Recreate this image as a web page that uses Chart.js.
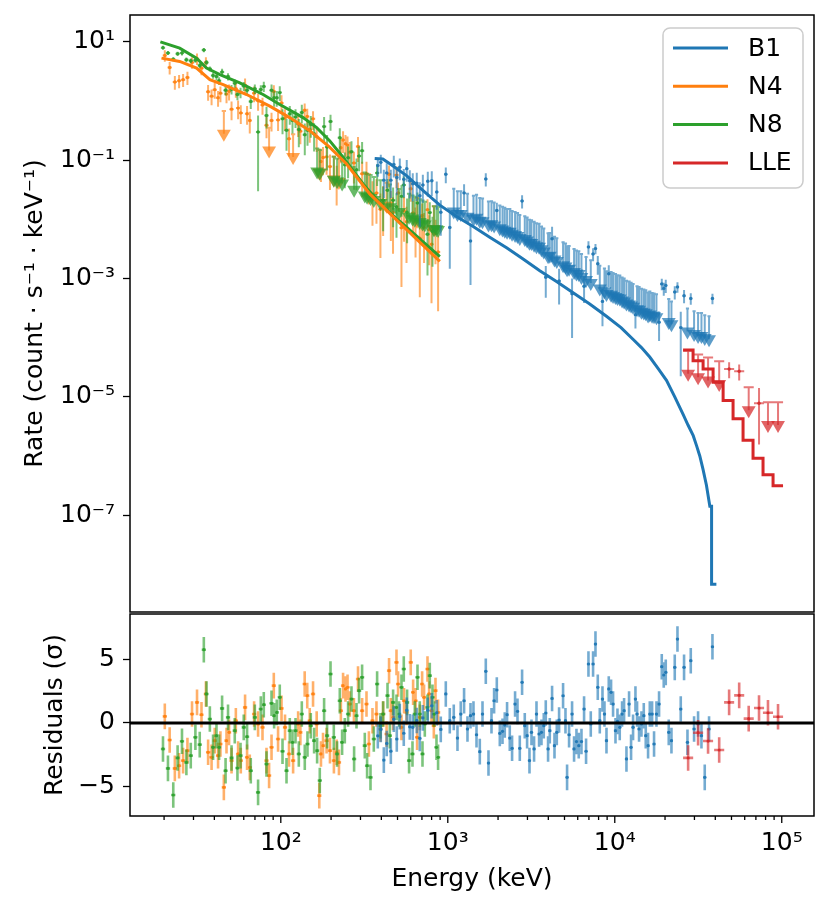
<!DOCTYPE html>
<html lang="en">
<head>
<meta charset="utf-8">
<title>Spectral fit: count rate and residuals</title>
<script src="https://cdn.jsdelivr.net/npm/chart.js"></script>
<style>
  body { margin: 0; background: #fff; }
  #wrap { position: relative; width: 831px; height: 907px; }
  canvas { position: absolute; left: 0; }
  #rateChart { top: 0; }
  #resChart { top: 600px; }
</style>
</head>
<body>
<div id="wrap">
  <canvas id="rateChart" width="831" height="620"></canvas>
  <canvas id="resChart" width="831" height="307"></canvas>
</div>
<script>
// ---- axis ticks ----
const rateTicks = [1e1, 1e-1, 1e-3, 1e-5, 1e-7];
const rateTickLabels = ['10¹', '10⁻¹', '10⁻³', '10⁻⁵', '10⁻⁷'];
const energyTicks = [1e2, 1e3, 1e4, 1e5];
const energyTickLabels = ['10²', '10³', '10⁴', '10⁵'];
const energyMinorTicks = [20, 30, 40, 50, 60, 70, 80, 90, 200, 300, 400, 500, 600, 700, 800, 900,
  2000, 3000, 4000, 5000, 6000, 7000, 8000, 9000, 20000, 30000, 40000, 50000, 60000, 70000, 80000, 90000];
const resTicks = [5, 0, -5];
const resTickLabels = ['5', '0', '−5'];

const detectors = ['B1', 'N4', 'N8', 'LLE'];

// ---- folded models (keV, count/s/keV) ----
const n4ModelE = [19.3, 24.8, 31.3, 37.6, 45.2, 62.4, 85.9, 113, 149, 196, 247, 341, 493, 896];
const n4ModelRate = [5.32, 4.68, 3.62, 2.30, 1.90, 1.29, 0.822, 0.525, 0.316, 0.166, 0.0871, 0.0269, 0.00977, 0.00195];
const n8ModelE = [19, 24.8, 31.3, 35.9, 43.2, 56.8, 78.3, 98.6, 136, 164, 196, 236, 311, 410, 566, 896];
const n8ModelRate = [10.0, 7.83, 5.32, 3.62, 2.79, 2.03, 1.29, 0.877, 0.525, 0.355, 0.214, 0.112, 0.0398, 0.0162, 0.00741, 0.00234];
const b1ModelE = [365, 408, 450, 566, 709, 896, 1128, 1419, 1783, 2250, 2825, 3556, 4477, 5630, 7080, 8915,
  10900, 12900, 14450, 16200, 18200, 20400, 22870, 25700, 27500, 29500, 30850, 32300, 33750, 35400, 37100, 38000, 38000, 40600];
const b1ModelRate = [0.107, 0.105, 0.087, 0.055, 0.031, 0.0174, 0.0112, 0.0076, 0.0050, 0.0033, 0.00214, 0.00135, 8.9e-4, 5.75e-4, 3.7e-4, 2.3e-4,
  1.48e-4, 9.3e-5, 6.8e-5, 4.7e-5, 3.0e-5, 1.9e-5, 1.0e-5, 5.0e-6, 3.3e-6, 2.2e-6, 1.51e-6, 1.0e-6, 6.0e-7, 3.2e-7, 1.41e-7, 1.41e-7, 6.8e-9, 6.8e-9];
const lleEdges = [25650, 29440, 33800, 38800, 44550, 51100, 58650, 67300, 77250, 88700, 101800];
const lleModelRate = [6.2e-5, 4.07e-5, 2.94e-5, 1.76e-5, 8.7e-6, 4.26e-6, 1.85e-6, 9.1e-7, 4.8e-7, 3.13e-7];

// ---- N4 data: energy, rate, relative error, upper limit flag, residual ----
const n4E = [20.2, 21.6, 23.2, 24.6, 26.0, 27.6, 29.4, 31.5, 33.5, 35.6,
  36.7, 38.5, 40.2, 42.1, 43.5, 45.6, 47.3, 49.0, 50.7, 53.8,
  55.5, 57.6, 61.1, 62.8, 65.2, 69.2, 73.1, 77.7, 82.1, 85.1,
  88.0, 90.8, 96.3, 101, 106, 112, 118.5, 127, 131, 139,
  144, 149, 156, 164, 170, 174, 179, 188, 197, 208,
  216, 223, 229, 236, 244, 251, 259, 274, 290, 307,
  326, 337, 354, 374, 395, 410, 430, 445, 456, 470,
  493, 504, 528, 547, 566, 600, 620, 641, 655, 680,
  702, 721, 756, 773, 799, 825, 844, 875];
const n4Rate = [5.9, 3.7, 2.1, 2.2, 2.3, 2.5, 4.5, 5.2, 3.6, 4.5,
  1.44, 1.21, 1.56, 1.14, 1.36, 0.68, 1.31, 1.46, 0.73, 1.62,
  0.76, 0.63, 1.85, 0.61, 0.47, 1.36, 1.01, 0.86, 0.39, 0.355,
  0.47, 1.45, 0.48, 0.93, 0.52, 0.23, 0.275, 0.41, 0.31, 0.70,
  0.55, 0.33, 0.50, 0.25, 0.151, 0.095, 0.111, 0.114, 0.078, 0.115,
  0.049, 0.104, 0.162, 0.22, 0.19, 0.18, 0.136, 0.090, 0.17, 0.059,
  0.059, 0.058, 0.026, 0.028, 0.0148, 0.021, 0.0414, 0.058, 0.0173, 0.0131,
  0.056, 0.028, 0.0072, 0.0140, 0.0091, 0.033, 0.0128, 0.0091, 0.0231, 0.0048,
  0.0116, 0.0073, 0.0146, 0.0067, 0.0038, 0.0167, 0.0058, 0.0028];
const n4RelErr = [.22, .24, .26, .25, .25, .25, .22, .22, .24, .22,
  .3, .3, .3, .3, .3, 0, .3, .3, .35, .3,
  .35, .35, .3, .35, .4, .3, .32, .32, .4, 0,
  .35, .28, .35, .35, .4, .5, 0, .4, .4, .3,
  .35, .4, .35, .45, 0, .55, .5, .5, .6, 0,
  .65, 0, .45, .4, .4, .4, .5, .55, .45, .6,
  .6, 0, .7, .7, .85, .75, 0, .4, .75, .8,
  .4, .5, .9, .7, .8, .4, .6, .75, 0, .9,
  .6, .75, .5, .75, .9, 0, .7, .9];
const n4Ul = [0, 0, 0, 0, 0, 0, 0, 0, 0, 0,
  0, 0, 0, 0, 0, 1, 0, 0, 0, 0,
  0, 0, 0, 0, 0, 0, 0, 0, 0, 1,
  0, 0, 0, 0, 0, 0, 1, 0, 0, 0,
  0, 0, 0, 0, 1, 0, 0, 0, 0, 1,
  0, 1, 0, 0, 0, 0, 0, 0, 0, 0,
  0, 1, 0, 0, 0, 0, 1, 0, 0, 0,
  0, 0, 0, 0, 0, 0, 0, 0, 1, 0,
  0, 0, 0, 0, 0, 1, 0, 0];
const n4Res = [0.52, -1.33, -3.55, -3.34, -2.94, -2.16, 0.70, 1.61, 0.65, 2.27,
  -2.29, -2.68, -1.38, -2.55, -1.64, -5.03, -1.38, -0.73, -2.94, 0.18,
  -2.42, -2.94, 1.22, -2.68, -3.47, 0.70, -0.08, -0.34, -2.94, -4.11,
  -1.90, 2.92, -1.25, 1.14, -0.34, -2.42, -2.94, -0.08, -0.73, 3.05,
  2.14, 0.18, 2.27, -0.08, -5.68, -2.42, -1.77, -1.38, -2.16, -2.94,
  -2.29, -3.08, 0.96, 2.92, 2.66, 2.79, 1.48, 0.96, 3.44, 0.96,
  1.48, -1.64, 0.18, 0.70, -0.47, 0.70, -0.86, 4.09, 0.96, 0.44,
  4.74, 3.05, -0.34, 1.74, 0.83, 4.74, 2.40, 1.74, -1.12, 0.44,
  3.05, 2.01, 4.22, 2.27, 0.96, -0.21, 2.53, 0.83];

// ---- N8 data ----
const n8E = [19.7, 21.1, 22.7, 24.1, 25.6, 27.2, 28.9, 30.8, 32.7, 34.6,
  35.9, 37.6, 39.3, 41.2, 42.7, 44.5, 46.7, 48.3, 50.7, 53.0,
  55.0, 57.4, 60.0, 62.8, 66.1, 69.9, 73.1, 75.9, 79.1, 82.1,
  88.0, 91.2, 94.6, 98.6, 102.4, 108.2, 113.2, 117.5, 122.5, 128.2,
  133.6, 139.2, 144.5, 151.2, 158.3, 165.0, 171.2, 181.7, 189.3, 198.5,
  207.7, 217.3, 225.6, 232.9, 241.7, 252.9, 265.0, 274.8, 284.0, 294.4,
  306.8, 318.4, 328.7, 344.5, 360.6, 377.4, 395.4, 410.0, 435.6, 449.6,
  470.5, 493.0, 511.0, 528.2, 545.2, 570.6, 586.5, 614.6, 634.5, 658.6,
  679.8, 705.6, 728.4, 755.9, 780.3, 809.9, 827.9, 855.7, 874.8];
const n8Rate = [8.0, 6.5, 5.1, 6.3, 6.5, 5.0, 4.8, 4.9, 4.0, 7.3,
  4.5, 3.5, 2.7, 2.6, 2.2, 3.1, 1.52, 2.6, 1.58, 2.0,
  1.29, 1.40, 1.79, 1.52, 0.98, 1.61, 0.30, 1.57, 1.77, 0.57,
  1.52, 1.14, 1.14, 1.39, 0.50, 0.32, 0.61, 0.47, 0.54, 0.33,
  0.64, 0.27, 0.32, 0.40, 0.28, 0.157, 0.149, 0.37, 0.167, 0.45,
  0.114, 0.107, 0.24, 0.098, 0.084, 0.110, 0.139, 0.077, 0.069, 0.118,
  0.145, 0.062, 0.059, 0.056, 0.052, 0.061, 0.046, 0.021, 0.031, 0.039,
  0.021, 0.0163, 0.0325, 0.0245, 0.038, 0.0132, 0.027, 0.0252, 0.0241, 0.0189,
  0.0219, 0.0208, 0.0199, 0.0056, 0.0130, 0.0063, 0.0166, 0.0166, 0.0161];
const n8RelErr = [.08, .08, .08, .08, .09, .09, .09, .09, .1, .08,
  .1, .1, .12, .14, .15, .13, .18, .14, .18, .16,
  .2, .2, .17, .18, .25, .18, .9, .18, .2, .4,
  .25, .3, .3, .28, .45, .55, .35, .4, .35, .5,
  .35, .55, .45, .4, .5, 0, 0, .45, .6, .3,
  0, 0, .45, 0, .6, .55, .5, 0, .55, .45,
  .4, 0, 0, 0, 0, .4, 0, .7, .55, 0,
  .65, .7, 0, .55, .4, .7, 0, 0, 0, .5,
  0, 0, 0, .8, .5, .75, 0, 0, 0];
const n8Ul = [0, 0, 0, 0, 0, 0, 0, 0, 0, 0,
  0, 0, 0, 0, 0, 0, 0, 0, 0, 0,
  0, 0, 0, 0, 0, 0, 0, 0, 0, 0,
  0, 0, 0, 0, 0, 0, 0, 0, 0, 0,
  0, 0, 0, 0, 0, 1, 1, 0, 0, 0,
  1, 1, 0, 1, 0, 0, 0, 1, 0, 0,
  0, 1, 1, 1, 1, 0, 1, 0, 0, 1,
  0, 0, 1, 0, 0, 0, 1, 1, 1, 0,
  1, 1, 1, 0, 0, 0, 1, 1, 1];
const n8Res = [-2.03, -3.55, -5.63, -2.73, -1.43, -3.08, -2.55, -1.12, -1.69, 5.73,
  2.27, 0.31, -1.90, -0.99, -1.90, 1.14, -3.73, 0.44, -2.73, -0.60,
  -3.52, -2.55, -0.34, -1.07, -3.73, 0.44, -5.42, 1.09, 1.43, -3.21,
  1.54, 0.57, 0.83, 2.01, -2.21, -3.73, -0.60, -1.51, -0.60, -2.42,
  0.70, -2.68, -1.64, -0.21, -1.38, -2.16, -4.50, 0.96, -0.99, 3.83,
  -1.12, -2.42, 1.74, -1.51, -0.60, 0.70, 1.87, -2.81, 0.57, 2.53,
  3.57, -1.77, -3.34, -4.25, -1.25, 3.05, -0.21, 0.70, 2.14, -0.99,
  1.61, 1.22, 0.70, 2.79, 4.22, 1.61, -2.94, -2.42, 0.70, 3.57,
  0.70, -2.42, -0.08, 1.22, 3.70, 2.01, 0.70, -1.90, -2.68];

// ---- B1 data ----
const b1E = [381, 397, 414, 431, 456, 475, 495, 516, 545, 568,
  592, 617, 652, 680, 709, 759, 802, 859, 908, 973,
  1028, 1086, 1143, 1196, 1252, 1312, 1368, 1425, 1486, 1555,
  1614, 1689, 1753, 1827, 1894, 1966, 2049, 2127, 2194, 2265,
  2351, 2427, 2529, 2615, 2699, 2786, 2891, 2985, 3085, 3171,
  3287, 3398, 3522, 3640, 3757, 3862, 3987, 4082, 4213, 4355,
  4496, 4641, 4903, 5068, 5181, 5326, 5550, 5705, 5897, 6086,
  6318, 6549, 6731, 6958, 7183, 7415, 7664, 7912, 8134, 8441,
  8677, 8920, 9206, 9502, 9768, 10100, 10380, 10710, 11060, 11370,
  11750, 12180, 12520, 12870, 13300, 13600, 13980, 14450, 14920, 15330,
  15830, 16210, 16730, 17190, 17770, 18420, 19120, 19650, 20200, 21050,
  21850, 22870, 23740, 24840, 26000, 27250, 28520, 29850, 31540, 33050,
  34580, 36700, 38460];
const b1Rate = [0.081, 0.092, 0.046, 0.061, 0.046, 0.085, 0.051, 0.076, 0.0475, 0.072,
  0.045, 0.040, 0.041, 0.025, 0.038, 0.044, 0.045, 0.029, 0.0132, 0.058,
  0.0073, 0.033, 0.030, 0.030, 0.028, 0.027, 0.0043, 0.025, 0.026, 0.023,
  0.0226, 0.048, 0.020, 0.0202, 0.0192, 0.0141, 0.0172, 0.0164, 0.0157, 0.0150,
  0.0150, 0.0139, 0.0133, 0.0128, 0.0118, 0.0204, 0.0113, 0.0107, 0.0098, 0.0097,
  0.0091, 0.0086, 0.0084, 0.0076, 0.0070, 0.00105, 0.0058, 0.0059, 0.0047, 0.0051,
  0.0048, 0.00091, 0.0041, 0.0039, 0.0035, 0.00356, 0.00055, 0.00315, 0.00296, 0.0029,
  0.00259, 0.00074, 0.0023, 0.0034, 0.00204, 0.0026, 0.0032, 0.00178, 0.00165, 0.00041,
  0.00148, 0.00133, 0.0012, 0.00129, 0.00124, 0.00119, 0.00114, 0.00112, 0.00104, 0.0010,
  0.00092, 0.00089, 0.00085, 0.00081, 0.000245, 0.00074, 0.00072, 0.00067, 0.00065, 0.00063,
  0.00058, 0.0006, 0.00057, 0.00056, 0.00054, 0.000182, 0.00081, 0.00068, 0.00076, 0.00045,
  0.00041, 0.00059, 0.00072, 0.000148, 0.00051, 0.00031, 0.00046, 0.00028, 0.00026, 0.00026,
  0.00024, 0.00023, 0.00046];
const b1RelErr = [.35, .35, .5, .45, .5, .4, .5, .4, .5, .4,
  .5, .5, .5, .7, .5, .45, .45, .5, .6, .3,
  .8, 0, 0, 0, .4, 0, .82, 0, 0, 0,
  0, .25, 0, 0, 0, .35, 0, 0, 0, 0,
  0, 0, 0, 0, 0, .25, 0, 0, 0, 0,
  0, 0, 0, 0, 0, .55, 0, 0, .6, 0,
  0, .6, 0, 0, 0, 0, .82, 0, 0, 0,
  0, .48, 0, .25, 0, .25, .2, .35, 0, .62,
  0, 0, .4, 0, 0, 0, 0, 0, 0, 0,
  0, 0, 0, 0, .42, 0, 0, 0, 0, 0,
  0, 0, 0, 0, 0, .52, .22, .25, .25, 0,
  0, .25, .2, .85, .25, 0, .22, 0, 0, 0,
  0, 0, .2];
const b1Ul = [0, 0, 0, 0, 0, 0, 0, 0, 0, 0,
  0, 0, 0, 0, 0, 0, 0, 0, 0, 0,
  0, 1, 1, 1, 0, 1, 0, 1, 1, 1,
  1, 0, 1, 1, 1, 0, 1, 1, 1, 1,
  1, 1, 1, 1, 1, 0, 1, 1, 1, 1,
  1, 1, 1, 1, 1, 0, 1, 1, 0, 1,
  1, 0, 1, 1, 1, 1, 0, 1, 1, 1,
  1, 0, 1, 0, 1, 0, 0, 0, 1, 0,
  1, 1, 0, 1, 1, 1, 1, 1, 1, 1,
  1, 1, 1, 1, 0, 1, 1, 1, 1, 1,
  1, 1, 1, 1, 1, 0, 0, 0, 0, 1,
  1, 0, 0, 0, 0, 1, 0, 1, 1, 1,
  1, 1, 0];
const b1Res = [-1.0, -0.5, -2.9, -1.6, -2.2, 0.3, -1.25, 0.5, -0.8, 1.0,
  -0.3, -0.34, 0.2, -1.2, 0.4, 1.0, 1.35, 0.8, -0.5, 2.27,
  0.18, 0.44, -1.18, 0.70, 1.74, -0.47, 0.57, 0.70, -0.92, -2.24,
  0.70, 4.04, -3.13, 0.18, 1.74, 2.58, -0.81, -0.65, -0.16, 0.65,
  -1.18, -1.98, 1.48, 0.91, -1.98, 3.18, -0.21, -0.99, -2.94, -0.73,
  -2.03, 0.70, -0.86, -0.73, -0.21, 0.78, -2.03, -0.60, 1.92, -1.77,
  -0.73, 0.23, 2.13, 0.18, -4.25, -0.92, 0.70, -2.03, -1.45, -1.77,
  -1.45, 1.09, -2.21, 4.61, -0.08, 4.61, 6.17, 2.79, 0.18, 1.87,
  0.70, -1.38, 2.66, 2.40, 1.48, -0.60, 0.13, -0.34, 0.70, 0.96,
  -2.81, 1.48, -1.90, -0.34, 1.87, 0.70, -0.47, -0.08, 0.57, -0.99,
  -1.77, 0.70, 0.70, -1.64, 0.70, 1.48, 4.40, 3.75, 3.96, -0.73,
  -1.38, 4.35, 6.56, 1.09, 4.35, -1.51, 4.87, -0.47, -0.08, -0.99,
  -4.25, -0.47, 5.96];

// ---- LLE data ----
const lleE = [27500, 31550, 36200, 42200, 48400, 55600, 63400, 73100, 82700, 95000];
const lleRate = [6.0e-5, 5.2e-5, 4.6e-5, 4.0e-5, 2.95e-5, 2.7e-5, 1.45e-5, 7.8e-6, 8.1e-6, 8.1e-6];
const lleRelErr = [0, 0, 0, 0, 0.3, 0.3, 0, 0.8, 0, 0];
const lleUl = [1, 1, 1, 1, 0, 0, 1, 0, 1, 1];
const lleRes = [-2.73, -0.76, -1.41, -2.11, 1.61, 2.16, 0.34, 1.17, 0.80, 0.49];

// ---- style ----
const RGB = { B1: '31,119,180', N4: '255,127,14', N8: '44,160,44', LLE: '214,39,40' };
const col = (name, a) => `rgba(${RGB[name]},${a})`;
const ARROW = 0.41;                      // triangle of an upper limit sits 0.39 dex below it
const HW = { N4: 1.03, N8: 1.03, B1: 1.022, LLE: 1.072 };   // half bin width as a factor
const X_MIN = 12.5, X_MAX = 1.56e5;

Chart.defaults.font.family = 'DejaVu Sans';
Chart.defaults.font.size = 25;
Chart.defaults.color = '#000';

// keep the plot box exactly where the layout padding puts it
function noEdgePadding(s) { s.paddingTop = 0; s.paddingBottom = 0; }

function modelSet(name, data, stepped) {
  return { type: 'line', label: name, data, borderColor: col(name, 1), borderWidth: 3,
    pointRadius: 0, stepped: stepped || false, order: 0 };
}

function rateSets(name, E, rate, rel, ul, order) {
  const hw = HW[name];
  const bars = [], tris = [], dots = [];
  E.forEach((e, i) => {
    const v = rate[i];
    if (ul[i]) {
      bars.push({x: e, y: v}, {x: e, y: v * ARROW}, {x: e, y: null});
      tris.push({x: e, y: v * ARROW});
    } else {
      bars.push({x: e, y: v * (1 - rel[i])}, {x: e, y: v * (1 + rel[i])}, {x: e, y: null});
      dots.push({x: e, y: v});
    }
    bars.push({x: e / hw, y: v}, {x: e * hw, y: v}, {x: e * hw, y: null});
  });
  return [
    { type: 'line', data: bars, borderColor: col(name, 0.62), borderWidth: 2, pointRadius: 0, order: order + 0.2 },
    { type: 'line', data: tris, showLine: false, pointStyle: 'triangle', pointRotation: 180, pointRadius: 8,
      pointBackgroundColor: col(name, 0.72), pointBorderColor: col(name, 0.72), pointBorderWidth: 0, order: order + 0.1 },
    { type: 'line', data: dots, showLine: false, pointRadius: 1.7, pointBackgroundColor: col(name, 0.9),
      pointBorderWidth: 0, order: order }
  ];
}

function resSets(name, E, res, order) {
  const hw = HW[name];
  const bars = [], dots = [];
  E.forEach((e, i) => {
    const r = res[i];
    bars.push({x: e, y: r - 1}, {x: e, y: r + 1}, {x: e, y: null},
              {x: e / hw, y: r}, {x: e * hw, y: r}, {x: e * hw, y: null});
    dots.push({x: e, y: r});
  });
  return [
    { type: 'line', data: bars, borderColor: col(name, 0.62), borderWidth: 2.6, pointRadius: 0, order: order + 0.1 },
    { type: 'line', data: dots, showLine: false, pointRadius: 1.6, pointBackgroundColor: col(name, 0.95),
      pointBorderWidth: 0, order: order }
  ];
}

const zip = (xs, ys) => xs.map((x, i) => ({x, y: ys[i]}));

const frame = {
  id: 'frame',
  afterDraw(chart) {
    const {ctx, chartArea: a} = chart;
    ctx.save();
    ctx.strokeStyle = '#000';
    ctx.lineWidth = 1.5;
    ctx.strokeRect(a.left, a.top, a.right - a.left, a.bottom - a.top);
    ctx.restore();
  }
};

const legendBox = {
  id: 'legendBox',
  afterDraw(chart) {
    const {ctx, chartArea: a} = chart;
    const x0 = a.right - 151, y0 = a.top + 13, w = 140, h = 160;
    ctx.save();
    ctx.beginPath();
    ctx.roundRect(x0, y0, w, h, 7);
    ctx.fillStyle = 'rgba(255,255,255,0.8)';
    ctx.fill();
    ctx.strokeStyle = '#cccccc';
    ctx.lineWidth = 1.5;
    ctx.stroke();
    ctx.font = '25px "DejaVu Sans"';
    ctx.textBaseline = 'middle';
    ctx.fillStyle = '#000';
    detectors.forEach((name, i) => {
      const y = y0 + 20 + i * 38.3;
      ctx.beginPath();
      ctx.moveTo(x0 + 10, y);
      ctx.lineTo(x0 + 65, y);
      ctx.strokeStyle = col(name, 1);
      ctx.lineWidth = 3;
      ctx.stroke();
      ctx.fillText(name, x0 + 85, y + 1);
    });
    ctx.restore();
  }
};

const energyTickMarks = {
  id: 'energyTickMarks',
  afterDraw(chart) {
    const {ctx, chartArea: a} = chart;
    const sx = chart.scales.x;
    ctx.save();
    ctx.strokeStyle = '#000';
    ctx.lineWidth = 1.3;
    const mark = (v, len) => {
      const px = sx.getPixelForValue(v);
      ctx.beginPath();
      ctx.moveTo(px, a.bottom);
      ctx.lineTo(px, a.bottom + len);
      ctx.stroke();
    };
    energyTicks.forEach(v => mark(v, 7));
    energyMinorTicks.forEach(v => mark(v, 4));
    ctx.restore();
  }
};

const lleModelPts = lleEdges.map((e, i) => ({x: e, y: lleModelRate[Math.min(i, lleModelRate.length - 1)]}));

new Chart(document.getElementById('rateChart'), {
  type: 'line',
  data: {
    datasets: [
      modelSet('B1', zip(b1ModelE, b1ModelRate)),
      modelSet('N4', zip(n4ModelE, n4ModelRate)),
      modelSet('N8', zip(n8ModelE, n8ModelRate)),
      modelSet('LLE', lleModelPts, 'before'),
      ...rateSets('N8', n8E, n8Rate, n8RelErr, n8Ul, 3),
      ...rateSets('N4', n4E, n4Rate, n4RelErr, n4Ul, 4),
      ...rateSets('B1', b1E, b1Rate, b1RelErr, b1Ul, 2),
      ...rateSets('LLE', lleE, lleRate, lleRelErr, lleUl, 1)
    ]
  },
  options: {
    responsive: false,
    animation: false,
    events: [],
    layout: { padding: { left: 20, right: 17, top: 15, bottom: 6 } },
    plugins: { legend: { display: false }, tooltip: { enabled: false } },
    scales: {
      x: { type: 'logarithmic', min: X_MIN, max: X_MAX, display: false },
      y: {
        type: 'logarithmic', min: 2.3e-9, max: 28.5,
        afterFit(s) { s.width = 110; noEdgePadding(s); },
        afterBuildTicks(s) { s.ticks = rateTicks.map(v => ({value: v})); },
        ticks: { autoSkip: false, padding: 8, callback: (v, i) => rateTickLabels[i] },
        grid: { display: true, drawOnChartArea: false, drawTicks: true, tickLength: 7, tickWidth: 1.3, tickColor: '#000' },
        border: { display: false },
        title: { display: true, text: 'Rate (count · s⁻¹ · keV⁻¹)', padding: { top: 0, bottom: 0 } }
      }
    }
  },
  plugins: [frame, legendBox]
});

new Chart(document.getElementById('resChart'), {
  type: 'line',
  data: {
    datasets: [
      { type: 'line', data: [{x: X_MIN, y: 0}, {x: X_MAX, y: 0}], borderColor: '#000', borderWidth: 3, pointRadius: 0, order: 0 },
      ...resSets('N4', n4E, n4Res, 4),
      ...resSets('N8', n8E, n8Res, 3),
      ...resSets('B1', b1E, b1Res, 2),
      ...resSets('LLE', lleE, lleRes, 1)
    ]
  },
  options: {
    responsive: false,
    animation: false,
    events: [],
    layout: { padding: { left: 40, right: 17, top: 14, bottom: 0 } },
    plugins: { legend: { display: false }, tooltip: { enabled: false } },
    scales: {
      x: {
        type: 'logarithmic', min: X_MIN, max: X_MAX,
        afterFit(s) { s.height = 91; s.paddingLeft = 0; s.paddingRight = 0; },
        afterBuildTicks(s) { s.ticks = energyTicks.map(v => ({value: v})); },
        ticks: { autoSkip: false, maxRotation: 0, padding: 5, callback: (v, i) => energyTickLabels[i] },
        grid: { display: false, drawTicks: true, tickLength: 7 },
        border: { display: false },
        title: { display: true, text: 'Energy (keV)', padding: { top: 0, bottom: 13 } }
      },
      y: {
        type: 'linear', min: -7.27, max: 8.52,
        afterFit(s) { s.width = 90; noEdgePadding(s); },
        afterBuildTicks(s) { s.ticks = resTicks.map(v => ({value: v})); },
        ticks: { autoSkip: false, padding: 8, callback: (v, i) => resTickLabels[i] },
        grid: { display: true, drawOnChartArea: false, drawTicks: true, tickLength: 7, tickWidth: 1.3, tickColor: '#000' },
        border: { display: false },
        title: { display: true, text: 'Residuals (σ)', padding: { top: 0, bottom: 0 } }
      }
    }
  },
  plugins: [frame, energyTickMarks]
});
</script>
</body>
</html>
